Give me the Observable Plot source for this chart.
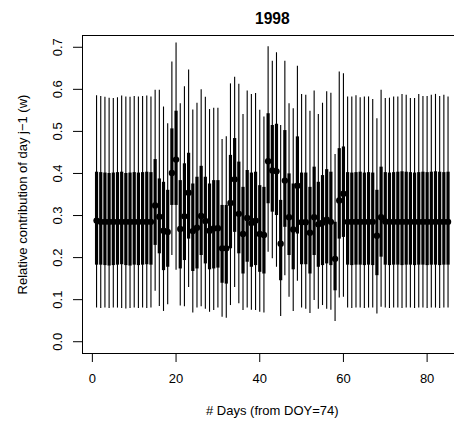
<!DOCTYPE html>
<html><head><meta charset="utf-8">
<script src="https://cdn.jsdelivr.net/npm/d3@7"></script>
<script src="https://cdn.jsdelivr.net/npm/@observablehq/plot@0.6"></script>
<style>
html,body{margin:0;padding:0;overflow:hidden;background:#fff;}
#chart svg{max-width:none;display:block;}
</style></head><body><div id="chart"></div>
<script>
const title = "1998";
const xLabel = "# Days (from DOY=74)";
const yLabel = "Relative contribution of day j\u22121 (w)";
const xTicks = [0, 20, 40, 60, 80];
const yTicks = [0, 0.1, 0.2, 0.3, 0.4, 0.5, 0.6, 0.7];
const days = d3.range(1, 86);

const lo = [0.080,0.079,0.080,0.079,0.080,0.080,0.079,0.078,0.079,0.080,0.079,0.080,0.079,0.080,
  0.120,0.084,0.072,0.088,0.205,0.170,0.085,0.083,0.129,0.068,0.080,0.083,0.077,0.070,0.074,0.080,
  0.058,0.056,0.086,0.129,0.090,0.074,0.080,0.075,0.074,0.070,0.068,0.213,0.197,0.177,0.060,0.157,
  0.106,0.072,0.144,0.080,0.077,0.067,0.098,0.077,0.086,0.077,0.075,0.048,0.104,0.106,
  0.080,0.079,0.080,0.080,0.079,0.080,0.080,0.066,0.082,
  0.080,0.079,0.080,0.080,0.079,0.080,0.080,0.079,0.080,0.080,0.079,0.080,0.080,0.079,0.080,0.080];
const q1 = [0.182,0.182,0.181,0.180,0.181,0.182,0.183,0.181,0.180,0.182,0.181,0.182,0.183,0.182,
  0.229,0.209,0.169,0.177,0.324,0.324,0.173,0.193,0.244,0.167,0.173,0.205,0.185,0.171,0.173,0.175,
  0.139,0.137,0.221,0.260,0.209,0.161,0.189,0.177,0.181,0.165,0.161,0.328,0.308,0.300,0.145,0.272,
  0.205,0.171,0.256,0.183,0.183,0.161,0.205,0.177,0.181,0.185,0.181,0.121,0.244,0.248,
  0.182,0.181,0.182,0.182,0.181,0.182,0.181,0.157,0.201,
  0.182,0.181,0.182,0.182,0.181,0.182,0.182,0.181,0.182,0.182,0.181,0.182,0.182,0.181,0.182,0.182];
const med = [0.288,0.285,0.285,0.285,0.285,0.285,0.285,0.285,0.285,0.285,0.285,0.285,0.285,0.285,
  0.324,0.297,0.264,0.261,0.401,0.433,0.268,0.298,0.354,0.263,0.271,0.299,0.287,0.264,0.269,0.270,
  0.222,0.222,0.330,0.386,0.304,0.256,0.294,0.282,0.288,0.256,0.254,0.429,0.407,0.405,0.233,0.383,
  0.296,0.267,0.371,0.284,0.284,0.259,0.296,0.279,0.283,0.290,0.285,0.197,0.336,0.352,
  0.285,0.285,0.285,0.285,0.285,0.285,0.285,0.252,0.296,
  0.286,0.285,0.285,0.285,0.285,0.285,0.285,0.285,0.285,0.285,0.285,0.285,0.285,0.285,0.285,0.285];
const q3 = [0.403,0.402,0.401,0.400,0.401,0.402,0.403,0.400,0.401,0.402,0.401,0.402,0.403,0.402,
  0.433,0.387,0.379,0.360,0.506,0.548,0.383,0.423,0.448,0.375,0.391,0.417,0.391,0.375,0.383,0.383,
  0.324,0.324,0.443,0.483,0.427,0.367,0.407,0.401,0.403,0.371,0.367,0.542,0.514,0.517,0.336,0.502,
  0.399,0.375,0.487,0.401,0.401,0.367,0.415,0.379,0.395,0.409,0.403,0.284,0.459,0.463,
  0.402,0.401,0.402,0.403,0.401,0.402,0.401,0.360,0.415,
  0.402,0.401,0.402,0.403,0.404,0.403,0.402,0.401,0.402,0.403,0.402,0.403,0.404,0.403,0.402,0.403];
const hi = [0.585,0.583,0.581,0.579,0.578,0.580,0.584,0.582,0.581,0.583,0.582,0.583,0.584,0.582,
  0.598,0.598,0.558,0.518,0.665,0.710,0.566,0.606,0.646,0.551,0.567,0.599,0.581,0.552,0.555,0.555,
  0.481,0.487,0.613,0.629,0.612,0.540,0.596,0.588,0.590,0.550,0.534,0.701,0.667,0.687,0.514,0.667,
  0.566,0.554,0.655,0.588,0.586,0.548,0.596,0.540,0.567,0.594,0.591,0.445,0.641,0.637,
  0.582,0.582,0.585,0.580,0.582,0.582,0.576,0.530,0.598,
  0.578,0.579,0.582,0.582,0.588,0.586,0.578,0.578,0.588,0.583,0.583,0.586,0.588,0.583,0.586,0.582];

const data = days.map((d, i) => ({day: d, lo: lo[i], q1: q1[i], med: med[i], q3: q3[i], hi: hi[i]}));

const chart = Plot.plot({
  width: 470, height: 430,
  marginLeft: 82, marginRight: 8.4, marginTop: 35, marginBottom: 77,
  style: {fontFamily: "'Liberation Sans', Arial, sans-serif", fontSize: "13px", color: "black", background: "white", overflow: "visible"},
  x: {domain: [-2.36, 88.36], label: null},
  y: {domain: [-0.028, 0.728], label: null},
  marks: [
    Plot.ruleX(data, {x: "day", y1: "lo", y2: "hi", stroke: "black", strokeWidth: 1.1}),
    Plot.ruleX(data, {x: "day", y1: "q1", y2: "q3", stroke: "black", strokeWidth: 3.2}),
    Plot.dot(data, {x: "day", y: "med", r: 3.2, fill: "black"}),
    Plot.frame({stroke: "black"}),
    Plot.axisX(xTicks, {tickSize: 9, tickPadding: 11, fontSize: 13}),
    Plot.axisY(yTicks, {tickSize: 9, tickRotate: -90, tickPadding: 12, fontSize: 13, tickFormat: d => d.toFixed(1)}),
    Plot.text([title], {text: d => d, frameAnchor: "top", dy: -23, fontWeight: "bold", fontSize: 15.6}),
    Plot.text([xLabel], {text: d => d, frameAnchor: "bottom", dy: 61, fontSize: 13}),
    Plot.text([yLabel], {text: d => d, frameAnchor: "left", textAnchor: "middle", dx: -60, rotate: -90, fontSize: 13})
  ]
});
document.getElementById("chart").appendChild(chart);
</script></body></html>
